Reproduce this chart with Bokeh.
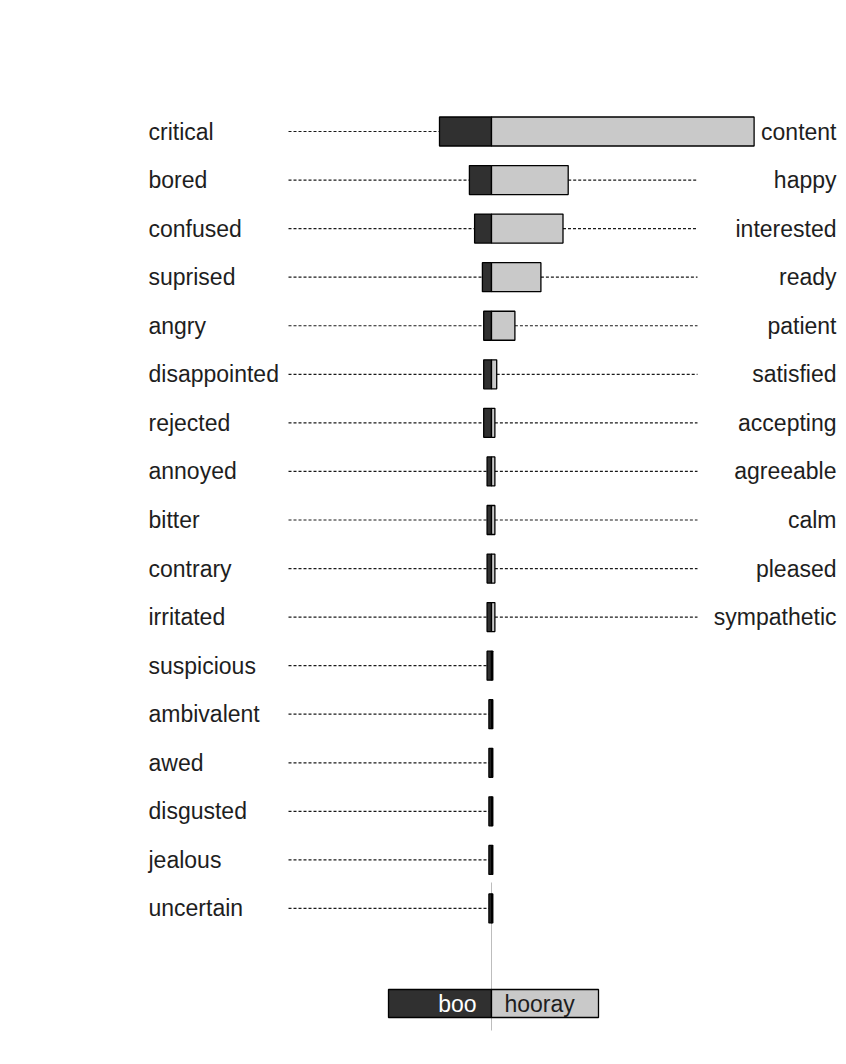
from bokeh.plotting import figure
from bokeh.models import Range1d, ColumnDataSource
from bokeh.core.properties import value
from bokeh.embed import file_html
from bokeh.resources import INLINE

# ---- data ----
left_labels = ["critical", "bored", "confused", "suprised", "angry", "disappointed",
               "rejected", "annoyed", "bitter", "contrary", "irritated", "suspicious",
               "ambivalent", "awed", "disgusted", "jealous", "uncertain"]
right_labels = ["content", "happy", "interested", "ready", "patient", "satisfied",
                "accepting", "agreeable", "calm", "pleased", "sympathetic",
                "", "", "", "", "", ""]
boo = [20, 8.5, 6.5, 3.5, 3, 3, 3, 1.7, 1.7, 1.7, 1.7, 1.7, 1.0, 1.0, 1.0, 1.0, 1.0]
hooray = [101, 29.5, 27.5, 19, 9, 2, 1.3, 1.3, 1.3, 1.3, 1.3, 0.5, 0.5, 0.5, 0.5, 0.5, 0.5]
legend_labels = ["boo", "hooray"]

# ---- layout helpers (pixel -> data) ----
W, H = 840, 1056
CX = 491          # page pixel of zero
PX = 2.6          # pixels per unit
PITCH = 48.56     # pixels per row
Y0 = 131          # page pixel of first row


def xp(pix):
    return (pix - CX) / PX


def yp(pix):
    return -(pix - Y0) / PITCH


DARK = "#303030"
LIGHT = "#c9c9c9"
TXT = "#1e1e1e"
FONT = value("Liberation Sans")
FS = "23px"

p = figure(width=W, height=H, output_backend="svg", toolbar_location=None,
           x_range=Range1d(xp(0), xp(W)), y_range=Range1d(yp(H), yp(0)),
           min_border=0)
p.axis.visible = False
p.grid.visible = False
p.outline_line_color = None
p.background_fill_color = "white"

n = len(left_labels)
ys = [-i for i in range(n)]

# center gray line (bottom part)
p.segment(x0=[0], y0=[yp(882)], x1=[0], y1=[yp(1030)], line_color="#bdbdbd", line_width=1)

# dotted leader lines
lx0 = [xp(288)] * n
lx1 = [-b for b in boo]
p.segment(x0=lx0, y0=ys, x1=lx1, y1=ys, line_color="#1a1a1a", line_width=1.2, line_dash="3 2")
rx0, rx1, ry = [], [], []
for i in range(n):
    if right_labels[i] and hooray[i] < xp(697):
        rx0.append(hooray[i]); rx1.append(xp(697)); ry.append(ys[i])
p.segment(x0=rx0, y0=ry, x1=rx1, y1=ry, line_color="#1a1a1a", line_width=1.2, line_dash="3 2")

# bars
BH = 29 / PITCH
src = ColumnDataSource(dict(y=ys, boo_left=[-b for b in boo], hooray=hooray))
p.hbar(y="y", left="boo_left", right=0, height=BH, source=src,
       fill_color=DARK, line_color="black", line_width=1.3)
p.hbar(y="y", left=0, right="hooray", height=BH, source=src,
       fill_color=LIGHT, line_color="black", line_width=1.3)

# labels
p.text(x=[xp(148)] * n, y=ys, text=left_labels, text_font=FONT, text_font_size=FS,
       text_color=TXT, text_align="left", text_baseline="middle")
p.text(x=[xp(836)] * n, y=ys, text=right_labels, text_font=FONT, text_font_size=FS,
       text_color=TXT, text_align="right", text_baseline="middle")

# legend
ly = yp(1003)
lh = 28 / PITCH
p.quad(left=[xp(388)], right=[0], top=[ly + lh / 2], bottom=[ly - lh / 2],
       fill_color=DARK, line_color="black", line_width=1.3)
p.quad(left=[0], right=[xp(598)], top=[ly + lh / 2], bottom=[ly - lh / 2],
       fill_color=LIGHT, line_color="black", line_width=1.3)
p.text(x=[xp(476)], y=[ly], text=[legend_labels[0]], text_font=FONT, text_font_size=FS,
       text_color="white", text_align="right", text_baseline="middle")
p.text(x=[xp(504)], y=[ly], text=[legend_labels[1]], text_font=FONT, text_font_size=FS,
       text_color=TXT, text_align="left", text_baseline="middle")

open("out.html", "w").write(file_html(p, INLINE))
